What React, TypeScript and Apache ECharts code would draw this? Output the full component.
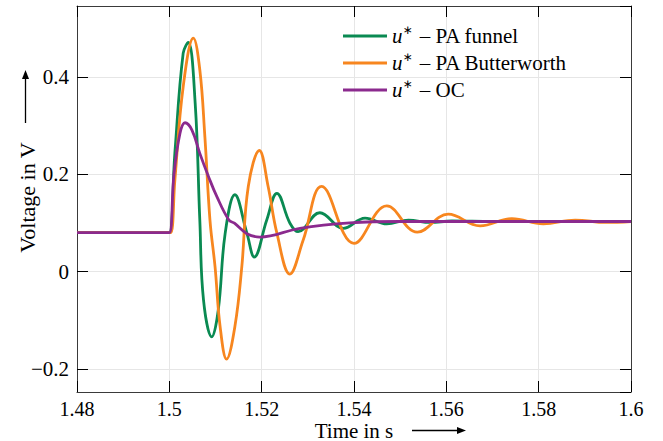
import React, { useEffect, useRef } from "react";
import * as echarts from "echarts";

const funnelT = [1.48, 1.499, 1.5, 1.5012, 1.503, 1.5041, 1.5056, 1.5066, 1.5074, 1.5092, 1.5106, 1.5121, 1.5142, 1.5168, 1.5184, 1.5211, 1.5233, 1.5261, 1.5279, 1.5326, 1.5377, 1.5424, 1.5471, 1.5518, 1.5565, 1.5612, 1.57, 1.6];
const funnelV = [0.08, 0.08, 0.08, 0.244, 0.449, 0.471, 0.346, 0.106, -0.058, -0.134, -0.079, 0.079, 0.158, 0.079, 0.03, 0.106, 0.161, 0.1, 0.082, 0.121, 0.089, 0.11, 0.098, 0.106, 0.101, 0.104, 0.103, 0.103];

const butterT = [1.48, 1.4995, 1.5003, 1.5012, 1.503, 1.5052, 1.5066, 1.5077, 1.5088, 1.5099, 1.511, 1.5124, 1.5142, 1.5157, 1.5171, 1.5195, 1.5214, 1.5233, 1.5261, 1.529, 1.533, 1.54, 1.5471, 1.5537, 1.5604, 1.5673, 1.5742, 1.581, 1.5879, 1.5946, 1.6];
const butterV = [0.08, 0.08, 0.08, 0.188, 0.38, 0.48, 0.415, 0.277, 0.106, 0.01, -0.113, -0.18, -0.113, 0.01, 0.175, 0.249, 0.175, 0.079, -0.005, 0.065, 0.175, 0.058, 0.135, 0.081, 0.118, 0.094, 0.109, 0.098, 0.106, 0.101, 0.103];

const ocT = [1.48, 1.499, 1.5, 1.501, 1.5023, 1.5034, 1.5049, 1.5066, 1.5085, 1.5103, 1.5129, 1.5141, 1.5168, 1.5196, 1.5283, 1.5391, 1.55, 1.6];
const ocV = [0.08, 0.08, 0.08, 0.2, 0.284, 0.306, 0.291, 0.243, 0.195, 0.154, 0.106, 0.0995, 0.078, 0.071, 0.089, 0.1, 0.103, 0.103];

const seriesNames = ["funnel", "butter", "oc"];
const legendLabels = ["PA funnel", "PA Butterworth", "OC"];
const xTicksRange = [1.48, 1.6];
const yRange = [-0.2475, 0.546];

const FONT = "Liberation Serif";
const zip = (t: number[], v: number[]) => t.map((x, i) => [x, v[i]]);

export default function App() {
  const ref = useRef<HTMLDivElement>(null);
  useEffect(() => {
    if (!ref.current) return;
    const chart = echarts.init(ref.current, null, { renderer: "svg" });
    const fmtX = (v: number) => parseFloat(v.toFixed(2)).toString();
    const fmtY = (v: number) => {
      const r = parseFloat(v.toFixed(2));
      return r < 0 ? "\u2212" + Math.abs(r) : String(r);
    };
    const axisLine = { show: true, onZero: false, lineStyle: { color: "#3a3a3a", width: 1 } };
    const tick = { show: true, inside: true, length: 11, lineStyle: { color: "#000", width: 1 } };
    const colors = ["#0a8a52", "#f7861f", "#8b2a8e"];
    const data = [zip(funnelT, funnelV), zip(butterT, butterV), zip(ocT, ocV)];
    chart.setOption({
      animation: false,
      textStyle: { fontFamily: FONT },
      grid: { left: 77, right: 32, top: 6, bottom: 49, containLabel: false },
      xAxis: [
        {
          type: "value", min: xTicksRange[0], max: xTicksRange[1], splitNumber: 6,
          axisLine, axisTick: tick,
          axisLabel: { formatter: fmtX, fontFamily: FONT, fontSize: 20, color: "#000", margin: 7 },
          splitLine: { show: true, lineStyle: { color: "#e6e6e6", width: 1 } },
        },
        {
          type: "value", position: "top", min: xTicksRange[0], max: xTicksRange[1], splitNumber: 6,
          axisLine, axisTick: tick, axisLabel: { show: false }, splitLine: { show: false },
        },
      ],
      yAxis: [
        {
          type: "value", min: yRange[0], max: yRange[1], splitNumber: 5,
          axisLine, axisTick: tick,
          axisLabel: { formatter: fmtY, fontFamily: FONT, fontSize: 21, color: "#000", margin: 8, showMinLabel: false, showMaxLabel: false },
          splitLine: { show: true, lineStyle: { color: "#e6e6e6", width: 1 } },
        },
        {
          type: "value", position: "right", min: yRange[0], max: yRange[1], splitNumber: 5,
          axisLine, axisTick: tick, axisLabel: { show: false }, splitLine: { show: false },
        },
      ],
      legend: {
        orient: "vertical", left: 343, top: 24, itemWidth: 44, itemHeight: 3, itemGap: 3,
        padding: 0,
        icon: "rect",
        data: seriesNames,
        formatter: (name: string) => `{i|u}{s|∗} – ${legendLabels[seriesNames.indexOf(name)]}`,
        textStyle: {
          fontFamily: FONT, fontSize: 21, color: "#000", lineHeight: 24,
          rich: {
            i: { fontFamily: FONT, fontStyle: "italic", fontSize: 21, color: "#000" },
            s: { fontFamily: "DejaVu Sans", fontSize: 12, color: "#000", verticalAlign: "top", padding: [0, 2, 0, 0] },
          },
        },
      },
      series: seriesNames.map((n, i) => ({
        name: n, type: "line", data: data[i], showSymbol: false, symbol: "none",
        smooth: 0.4, lineStyle: { color: colors[i], width: 2.8 }, itemStyle: { color: colors[i] },
        z: 2 + i,
      })),
      graphic: [
        { type: "text", x: 354, y: 441, style: { text: "Time in s", fontFamily: FONT, fontSize: 21, fill: "#000", align: "center", verticalAlign: "bottom" } },
        { type: "line", shape: { x1: 412, y1: 430.5, x2: 462, y2: 430.5 }, style: { stroke: "#000", lineWidth: 1.3 } },
        { type: "polygon", shape: { points: [[457, 427], [466, 430.5], [457, 434]] }, style: { fill: "#000" } },
        { type: "text", x: 27, y: 197.5, rotation: Math.PI / 2, style: { text: "Voltage in V", fontFamily: FONT, fontSize: 22, fill: "#000", align: "center", verticalAlign: "middle" } },
        { type: "line", shape: { x1: 25.5, y1: 123, x2: 25.5, y2: 75 }, style: { stroke: "#000", lineWidth: 1.3 } },
        { type: "polygon", shape: { points: [[22, 79], [25.5, 70], [29, 79]] }, style: { fill: "#000" } },
      ],
    });
    return () => chart.dispose();
  }, []);
  return <div ref={ref} style={{ width: 663, height: 441, position: "absolute", left: 0, top: 0 }} />;
}
